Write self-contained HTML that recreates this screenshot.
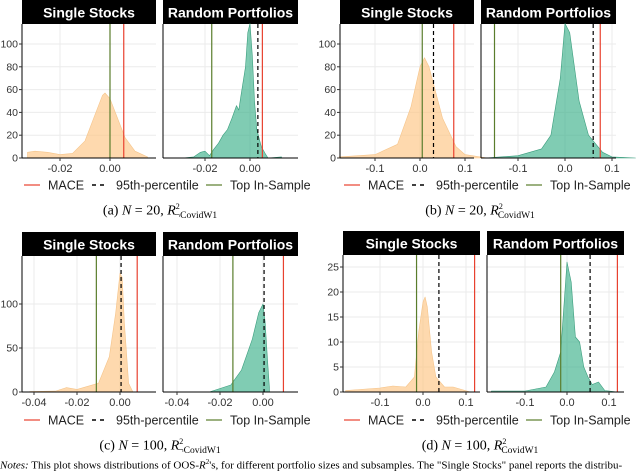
<!DOCTYPE html>
<html><head><meta charset="utf-8">
<style>
body{margin:0;background:#fff;width:640px;height:468px;overflow:hidden;font-family:"Liberation Sans",sans-serif}
svg text{font-family:"Liberation Sans",sans-serif}
.cap{font-family:"Liberation Serif",serif}
</style></head>
<body>
<svg id="fig" width="640" height="468" viewBox="0 0 640 468" xmlns="http://www.w3.org/2000/svg"></svg>
<script>
// ---- data (density estimates) ----
const aSingleX=[-0.033,-0.03,-0.025,-0.02,-0.015,-0.01,-0.006,-0.003,-0.002,0,0.003,0.006,0.01,0.015];
const aSingleY=[5,6,5,3,4,15,38,55,57,52,35,18,6,1];
const aRandX=[-0.03,-0.025,-0.022,-0.02,-0.018,-0.016,-0.014,-0.012,-0.01,-0.008,-0.006,-0.005,-0.004,-0.002,-0.001,0,0.001,0.002,0.003,0.005,0.007,0.008,0.014];
const aRandY=[0,1,5,6,2,8,13,20,25,35,46,42,55,80,110,118,90,50,25,10,3,0,1];
const bSingleX=[-0.18,-0.1,-0.05,-0.02,0,0.01,0.02,0.05,0.08,0.1,0.15];
const bSingleY=[1,3,12,45,80,88,80,35,10,3,0];
const bRandX=[-0.17,-0.1,-0.05,-0.03,-0.01,0,0.01,0.03,0.05,0.08,0.1,0.15];
const bRandY=[0,2,8,20,70,118,110,50,20,5,1,0];
const cSingleX=[-0.042,-0.03,-0.025,-0.02,-0.01,-0.005,-0.002,0,0.001,0.002,0.004,0.006];
const cSingleY=[0.5,1,5,3,10,40,90,135,130,80,10,0];
const cRandX=[-0.025,-0.015,-0.01,-0.005,-0.002,0,0.001,0.002,0.003];
const cRandY=[0,8,25,60,90,100,80,40,5];
const dSingleX=[-0.18,-0.1,-0.07,-0.04,-0.02,-0.01,0,0.005,0.01,0.02,0.03,0.05,0.07,0.09,0.11];
const dSingleY=[0.3,0.8,1.2,1,3,12,18,19,17,8,3,1,1,0.5,0];
const dRandX=[-0.18,-0.1,-0.05,-0.03,-0.015,-0.005,0,0.01,0.02,0.03,0.04,0.05,0.06,0.075,0.09,0.12];
const dRandY=[0.2,0.2,1,4,8,20,26,22,11,10,5,3,1.5,2,0.3,0];
const aSingleLines=[0.0055,null,0], aRandLines=[0.0055,0.0035,-0.017];
const bSingleLines=[0.075,0.03,0.005], bRandLines=[0.075,0.06,-0.15];
const cSingleLines=[0.008,0.0005,-0.011], cRandLines=[0.0095,0.0005,-0.014];
const dSingleLines=[0.12,0.037,-0.015], dRandLines=[0.12,0.055,-0.015];
const abYTicks=[0,20,40,60,80,100], cYTicks=[0,50,100], dYTicks=[0,5,10,15,20,25];
const aXTicks=[-0.02,0], bXTicks=[-0.1,0,0.1], cXTicks=[-0.04,-0.02,0], dXTicks=[-0.1,0,0.1];
const aXLabels=["-0.02","0.00"], bXLabels=["-0.1","0.0","0.1"], cXLabels=["-0.04","-0.02","0.00"], dXLabels=["-0.1","0.0","0.1"];

const NS="http://www.w3.org/2000/svg", svg=document.getElementById('fig');
function mk(t,a,p){const e=document.createElementNS(NS,t);for(const k in a)e.setAttribute(k,a[k]);(p||svg).appendChild(e);return e;}

function panel(o){
  const g=mk('g',{});
  
  
  const sx=v=>o.px0+(v-o.v0)*(o.px1-o.px0)/(o.v1-o.v0);
  const sy=v=>o.bot-v*o.yk;
  const s=mk('rect',{x:o.x0,y:o.top-24,width:o.x1-o.x0,height:24,fill:'#000'},g);
  
  const st=mk('text',{x:(o.x0+o.x1)/2,y:o.top-6.5,'text-anchor':'middle','font-size':'14','font-weight':'bold',fill:'#fff'},g);
  st.textContent=o.title;
  o.yt.forEach(v=>{mk('line',{x1:o.x0,x2:o.x1,y1:sy(v),y2:sy(v),stroke:'#ebebeb','stroke-width':1},g);});
  o.xt.forEach(v=>{mk('line',{x1:sx(v),x2:sx(v),y1:o.top,y2:o.bot,stroke:'#ebebeb','stroke-width':1},g);});
  let d='M'+sx(o.dx[0])+','+sy(0);
  o.dx.forEach((v,i)=>{d+=' L'+sx(v).toFixed(1)+','+sy(o.dy[i]).toFixed(1);});
  d+=' L'+sx(o.dx[o.dx.length-1])+','+sy(0)+'Z';
  const p=mk('path',{d:d,fill:o.fill,stroke:o.stroke,'stroke-width':0.6,'stroke-linejoin':'round'},g);
  
  const [m,q,t]=o.lines;
  if(t!=null){const l=mk('line',{x1:sx(t),x2:sx(t),y1:o.top,y2:o.bot,stroke:'#5a7d2c','stroke-width':1.2},g);}
  if(q!=null){const l=mk('line',{x1:sx(q),x2:sx(q),y1:o.top,y2:o.bot,stroke:'#000','stroke-width':1.2,'stroke-dasharray':'4,3'},g);}
  if(m!=null){const l=mk('line',{x1:sx(m),x2:sx(m),y1:o.top,y2:o.bot,stroke:'#e8412f','stroke-width':1.2},g);}
  mk('line',{x1:o.x0,x2:o.x0,y1:o.top,y2:o.bot,stroke:'#000','stroke-width':1},g);
  mk('line',{x1:o.x0,x2:o.x1,y1:o.bot,y2:o.bot,stroke:'#000','stroke-width':1},g);
  o.xt.forEach((v,i)=>{mk('line',{x1:sx(v),x2:sx(v),y1:o.bot,y2:o.bot+3,stroke:'#333'},g);
    const t=mk('text',{x:sx(v),y:o.bot+14,'text-anchor':'middle','font-size':'11',fill:'#333'},g);t.textContent=o.xl[i];});
  if(o.showY){o.yt.forEach(v=>{mk('line',{x1:o.x0-3,x2:o.x0,y1:sy(v),y2:sy(v),stroke:'#333'},g);
    const t=mk('text',{x:o.x0-4,y:sy(v)+3.5,'text-anchor':'end','font-size':'10.5',fill:'#333'},g);t.textContent=v;});}
}
const OR='rgba(253,196,130,0.65)',ORs='#f5c48a',GR='rgba(60,176,138,0.65)',GRs='#3a9d7d';
panel({name:'panel-a-single',title:'Single Stocks',x0:22,x1:156,top:24,bot:158,px0:60,v0:-0.02,px1:110,v1:0,yk:1.14,yt:abYTicks,xt:aXTicks,xl:aXLabels,dx:aSingleX,dy:aSingleY,lines:aSingleLines,fill:OR,stroke:ORs,showY:true});
panel({name:'panel-a-random',title:'Random Portfolios',x0:163,x1:298,top:24,bot:158,px0:205,v0:-0.02,px1:250,v1:0,yk:1.14,yt:abYTicks,xt:aXTicks,xl:aXLabels,dx:aRandX,dy:aRandY,lines:aRandLines,fill:GR,stroke:GRs});
panel({name:'panel-b-single',title:'Single Stocks',x0:340,x1:474,top:24,bot:158,px0:375,v0:-0.1,px1:420,v1:0,yk:1.14,yt:abYTicks,xt:bXTicks,xl:bXLabels,dx:bSingleX,dy:bSingleY,lines:bSingleLines,fill:OR,stroke:ORs,showY:true});
panel({name:'panel-b-random',title:'Random Portfolios',x0:481,x1:616,top:24,bot:158,px0:518,v0:-0.1,px1:565,v1:0,yk:1.14,yt:abYTicks,xt:bXTicks,xl:bXLabels,dx:bRandX,dy:bRandY,lines:bRandLines,fill:GR,stroke:GRs});
panel({name:'panel-c-single',title:'Single Stocks',x0:22,x1:156,top:256,bot:392,px0:77,v0:-0.02,px1:120,v1:0,yk:0.88,yt:cYTicks,xt:cXTicks,xl:cXLabels,dx:cSingleX,dy:cSingleY,lines:cSingleLines,fill:OR,stroke:ORs,showY:true});
panel({name:'panel-c-random',title:'Random Portfolios',x0:163,x1:298,top:256,bot:392,px0:220,v0:-0.02,px1:263,v1:0,yk:0.88,yt:cYTicks,xt:cXTicks,xl:cXLabels,dx:cRandX,dy:cRandY,lines:cRandLines,fill:GR,stroke:GRs});
panel({name:'panel-d-single',title:'Single Stocks',x0:343,x1:480,top:255,bot:392,px0:380,v0:-0.1,px1:423,v1:0,yk:5,yt:dYTicks,xt:dXTicks,xl:dXLabels,dx:dSingleX,dy:dSingleY,lines:dSingleLines,fill:OR,stroke:ORs,showY:true});
panel({name:'panel-d-random',title:'Random Portfolios',x0:487,x1:624,top:255,bot:392,px0:525,v0:-0.1,px1:567,v1:0,yk:5,yt:dYTicks,xt:dXTicks,xl:dXLabels,dx:dRandX,dy:dRandY,lines:dRandLines,fill:GR,stroke:GRs});

function legend(cx,y){
  const g=mk('g',{});
  
  
  const x=cx-135;
  mk('line',{x1:x,x2:x+16,y1:y,y2:y,stroke:'#e8412f','stroke-width':1.2},g);
  let t=mk('text',{x:x+24,y:y+4.5,'font-size':'12.5',fill:'#222'},g);t.textContent='MACE';
  mk('line',{x1:x+68,x2:x+84,y1:y,y2:y,stroke:'#000','stroke-width':1.4,'stroke-dasharray':'4,4'},g);
  t=mk('text',{x:x+92,y:y+4.5,'font-size':'12.5',fill:'#222'},g);t.textContent='95th-percentile';
  mk('line',{x1:x+182,x2:x+198,y1:y,y2:y,stroke:'#5a7d2c','stroke-width':1.2},g);
  t=mk('text',{x:x+206,y:y+4.5,'font-size':'12.5',fill:'#222'},g);t.textContent='Top In-Sample';
}
legend(159,185);legend(479,185);legend(159,420);legend(479,420);
</script>
<div style="position:absolute;left:0;top:0;width:640px;height:468px;pointer-events:none">
<div class="cap" style="position:absolute;left:60px;top:202px;width:200px;text-align:center;font-size:14px">(a) <i>N</i> = 20, <i>R</i><sup style="font-size:8px">2</sup><sub style="font-size:9.5px;margin-left:-5px">¬CovidW1</sub></div>
<div class="cap" style="position:absolute;left:380px;top:202px;width:200px;text-align:center;font-size:14px">(b) <i>N</i> = 20, <i>R</i><sup style="font-size:8px">2</sup><sub style="font-size:9.5px;margin-left:-5px">CovidW1</sub></div>
<div class="cap" style="position:absolute;left:60px;top:437px;width:200px;text-align:center;font-size:14px">(c) <i>N</i> = 100, <i>R</i><sup style="font-size:8px">2</sup><sub style="font-size:9.5px;margin-left:-5px">¬CovidW1</sub></div>
<div class="cap" style="position:absolute;left:380px;top:437px;width:200px;text-align:center;font-size:14px">(d) <i>N</i> = 100, <i>R</i><sup style="font-size:8px">2</sup><sub style="font-size:9.5px;margin-left:-5px">CovidW1</sub></div>
<div class="cap" style="position:absolute;left:0;top:458px;width:660px;white-space:nowrap;font-size:11px"><i>Notes:</i> This plot shows distributions of OOS-<i>R</i><sup style="font-size:7px">2</sup>'s, for different portfolio sizes and subsamples. The "Single Stocks" panel reports the distribu-</div>
</div>
</body></html>
